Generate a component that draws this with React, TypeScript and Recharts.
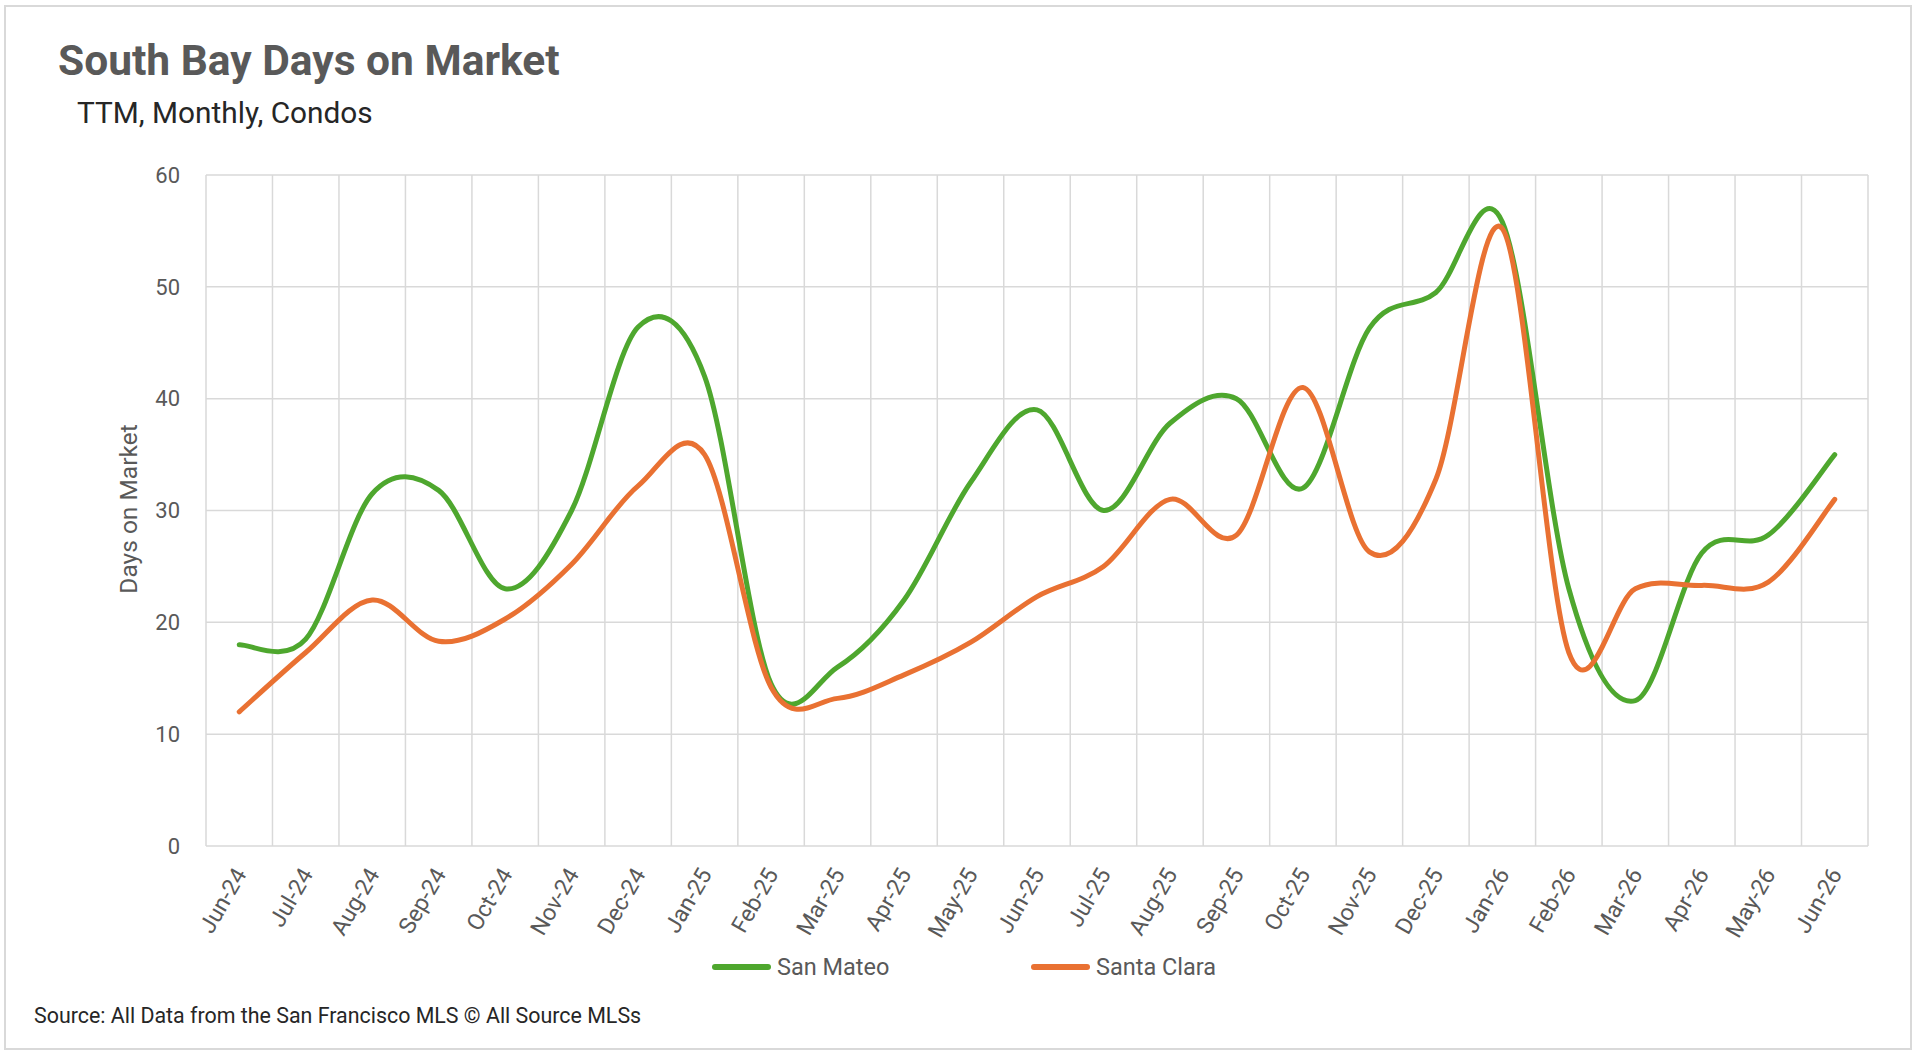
import { LineChart, Line, XAxis, YAxis, CartesianGrid } from "recharts";

const MONTHS = [
  "Jun-24", "Jul-24", "Aug-24", "Sep-24", "Oct-24", "Nov-24", "Dec-24",
  "Jan-25", "Feb-25", "Mar-25", "Apr-25", "May-25", "Jun-25", "Jul-25",
  "Aug-25", "Sep-25", "Oct-25", "Nov-25", "Dec-25", "Jan-26", "Feb-26",
  "Mar-26", "Apr-26", "May-26", "Jun-26",
];

const SAN_MATEO = [
  18, 18.5, 31.5, 31.8, 23, 30, 46.4, 42, 14.5, 16, 22, 32.5, 39, 30, 37.8,
  40, 32, 46.3, 49.5, 55.8, 23, 13, 26.2, 27.8, 35,
];

const SANTA_CLARA = [
  12, 17.3, 22, 18.3, 20.3, 25.2, 32.2, 35, 14.2, 13.2, 15.3, 18.2, 22.3,
  25, 31, 27.8, 41, 26.3, 32.8, 55.2, 17.3, 23, 23.3, 23.6, 31,
];

const Y_TICKS = [0, 10, 20, 30, 40, 50, 60];

const SERIES = [
  { key: "sanMateo", name: "San Mateo", color: "#4ea72e" },
  { key: "santaClara", name: "Santa Clara", color: "#e97132" },
];

const W = 1920;
const H = 1054;
const GRID = "#d9d9d9";
const GRAY = "#595959";
const FONT = "Roboto, 'Open Sans', sans-serif";

// Excel-style smoothing: Catmull-Rom through every point (overshoots a bit)
function excelCurve(context: any) {
  let pts: number[][] = [];
  return {
    areaStart() {},
    areaEnd() {},
    lineStart() {
      pts = [];
    },
    point(x: number, y: number) {
      pts.push([+x, +y]);
    },
    lineEnd() {
      const n = pts.length;
      if (!n) return;
      context.moveTo(pts[0][0], pts[0][1]);
      for (let i = 0; i < n - 1; i++) {
        const p0 = pts[i - 1] || pts[i];
        const p1 = pts[i];
        const p2 = pts[i + 1];
        const p3 = pts[i + 2] || p2;
        context.bezierCurveTo(
          p1[0] + (p2[0] - p0[0]) / 6,
          p1[1] + (p2[1] - p0[1]) / 6,
          p2[0] - (p3[0] - p1[0]) / 6,
          p2[1] - (p3[1] - p1[1]) / 6,
          p2[0],
          p2[1]
        );
      }
    },
  };
}

const data = MONTHS.map((month, i) => ({
  pos: i + 0.5,
  month,
  sanMateo: SAN_MATEO[i],
  santaClara: SANTA_CLARA[i],
}));

const labelTicks = MONTHS.map((_, i) => i + 0.5);
// vertical gridlines sit between categories, like Excel
const boundaryTicks = [...MONTHS.map((_, i) => i), MONTHS.length];

function MonthTick(props: any) {
  const { x, y, payload } = props;
  const label = MONTHS[Math.round(payload.value - 0.5)];
  return (
    <g transform={`translate(${x + 1},${y + 22})`}>
      <text
        transform="rotate(-60)"
        textAnchor="end"
        dy="0.35em"
        fill={GRAY}
        fontSize={23}
        fontFamily={FONT}
      >
        {label}
      </text>
    </g>
  );
}

const NoTick = () => <g />;

export default function App() {
  return (
    <div
      style={{
        position: "absolute",
        left: 0,
        top: 0,
        width: W,
        height: H,
        background: "#fff",
      }}
    >
      <LineChart
        width={W}
        height={H}
        data={data}
        margin={{ top: 175, right: 52, bottom: 108, left: 0 }}
      >
        <CartesianGrid xAxisId="grid" stroke={GRID} strokeWidth={1.5} />
        <XAxis
          xAxisId="grid"
          dataKey="pos"
          type="number"
          domain={[0, MONTHS.length]}
          ticks={boundaryTicks}
          interval={0}
          tick={<NoTick />}
          tickSize={8}
          tickLine={{ stroke: GRID, strokeWidth: 1.5 }}
          axisLine={false}
          height={0}
          allowDataOverflow
        />
        <XAxis
          xAxisId="cat"
          dataKey="pos"
          type="number"
          domain={[0, MONTHS.length]}
          ticks={labelTicks}
          interval={0}
          tick={<MonthTick />}
          tickSize={0}
          tickLine={false}
          axisLine={false}
          height={100}
          allowDataOverflow
        />
        <YAxis
          type="number"
          domain={[0, 60]}
          ticks={Y_TICKS}
          width={206}
          axisLine={false}
          tickLine={false}
          tickSize={0}
          tickMargin={26}
          tick={{ fill: GRAY, fontSize: 22, fontFamily: FONT }}
        />
        {SERIES.map((s) => (
          <Line
            key={s.key}
            xAxisId="cat"
            dataKey={s.key}
            name={s.name}
            type={excelCurve as any}
            stroke={s.color}
            strokeWidth={5}
            strokeLinecap="round"
            dot={false}
            activeDot={false}
            isAnimationActive={false}
          />
        ))}
      </LineChart>

      <svg
        width={W}
        height={H}
        style={{ position: "absolute", left: 0, top: 0, pointerEvents: "none" }}
      >
        <rect x={5} y={6} width={1906} height={1043} fill="none" stroke={GRID} strokeWidth={2} />
        <text x={58} y={75} fontSize={42.5} fontWeight={700} fill={GRAY} fontFamily={FONT}>
          South Bay Days on Market
        </text>
        <text x={77} y={123} fontSize={29.8} fill="#262626" fontFamily={FONT}>
          TTM, Monthly, Condos
        </text>
        <text
          transform="translate(137,509) rotate(-90)"
          textAnchor="middle"
          fontSize={24.5}
          fill={GRAY}
          fontFamily={FONT}
        >
          Days on Market
        </text>
        {SERIES.map((s, i) => {
          const x0 = i === 0 ? 712 : 1031;
          return (
            <g key={s.key}>
              <line x1={x0 + 3} y1={967} x2={x0 + 56} y2={967} stroke={s.color} strokeWidth={6} strokeLinecap="round" />
              <text x={x0 + 65} y={975} fontSize={23.5} fill={GRAY} fontFamily={FONT}>
                {s.name}
              </text>
            </g>
          );
        })}
        <text x={34} y={1023} fontSize={21.4} fill="#262626" fontFamily={FONT}>
          Source: All Data from the San Francisco MLS © All Source MLSs
        </text>
      </svg>
    </div>
  );
}
